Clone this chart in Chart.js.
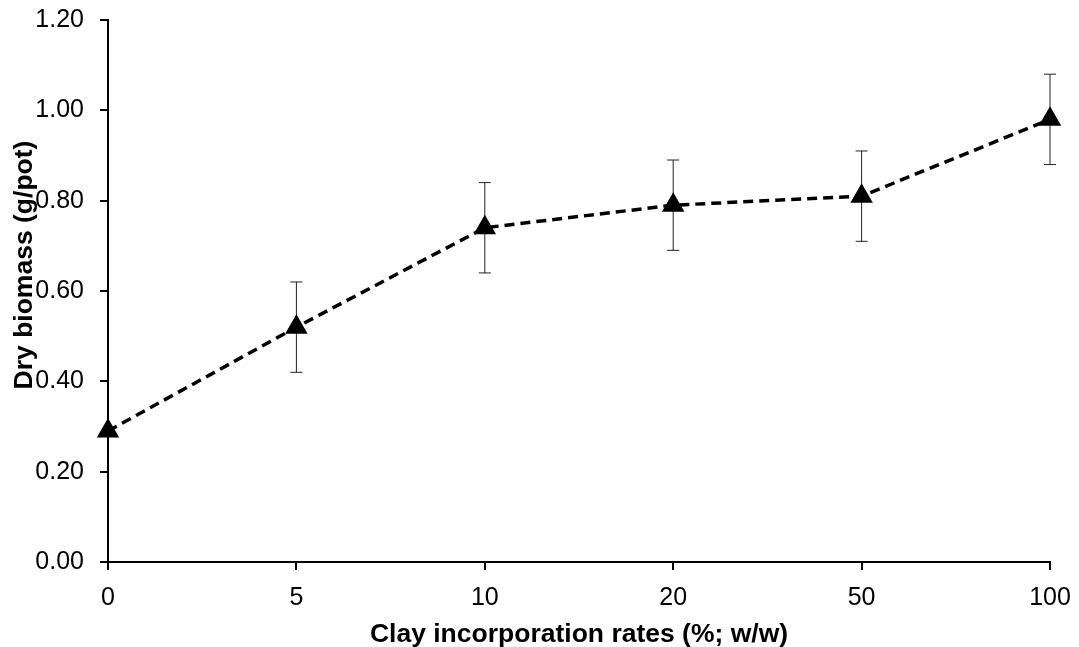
<!DOCTYPE html>
<html lang="en">
<head>
    <meta charset="UTF-8">
    <title>Dry biomass vs clay incorporation</title>
    <script src="https://cdn.jsdelivr.net/npm/chart.js"></script>
    <style>
        html, body { margin: 0; padding: 0; background: #fff; }
        .chart-box { width: 1079px; height: 647px; position: relative; }
    </style>
</head>
<body>
    <div class="chart-box">
        <canvas id="biomassChart"></canvas>
    </div>

    <script>
        // Data
        const rates = ['0', '5', '10', '20', '50', '100'];      // clay incorporation, % w/w
        const biomass = [0.29, 0.52, 0.74, 0.79, 0.81, 0.98];   // g/pot
        const errors = [0.00, 0.10, 0.10, 0.10, 0.10, 0.10];    // error bar half-length
        const yTicks = [0, 0.2, 0.4, 0.6, 0.8, 1.0, 1.2];
        const yTitle = 'Dry biomass (g/pot)';
        const xTitle = 'Clay incorporation rates (%; w/w)';

        const FONT = "'Liberation Sans', Arial, sans-serif";

        // draws the vertical error bars with caps, under the line
        const errorBars = {
            id: 'errorBars',
            beforeDatasetsDraw(chart) {
                const ctx = chart.ctx;
                const x = chart.scales.x, y = chart.scales.y;
                ctx.save();
                ctx.strokeStyle = '#222';
                ctx.lineWidth = 1;
                biomass.forEach((v, i) => {
                    if (!errors[i]) return;
                    const px = x.getPixelForValue(i);
                    const top = y.getPixelForValue(v + errors[i]);
                    const bot = y.getPixelForValue(v - errors[i]);
                    ctx.beginPath();
                    ctx.moveTo(px, top); ctx.lineTo(px, bot);
                    ctx.moveTo(px - 6, top); ctx.lineTo(px + 6, top);
                    ctx.moveTo(px - 6, bot); ctx.lineTo(px + 6, bot);
                    ctx.stroke();
                });
                ctx.restore();
            }
        };

        // y title sits over the tick labels like in the original (Excel style)
        const yTitlePlugin = {
            id: 'yTitle',
            afterDraw(chart) {
                const ctx = chart.ctx;
                ctx.save();
                ctx.translate(25, 265);
                ctx.rotate(-Math.PI / 2);
                ctx.font = "bold 26.5px " + FONT;
                ctx.fillStyle = '#000';
                ctx.textAlign = 'center';
                ctx.textBaseline = 'middle';
                ctx.fillText(yTitle, 0, 0);
                ctx.restore();
            }
        };

        const config = {
            type: 'line',
            data: {
                labels: rates,
                datasets: [{
                    data: biomass,
                    borderColor: '#000',
                    backgroundColor: '#000',
                    borderWidth: 3.5,
                    borderDash: [10, 6],
                    pointStyle: 'triangle',
                    pointRadius: 13,
                    pointBorderWidth: 0,
                    pointBackgroundColor: '#000',
                    tension: 0
                }]
            },
            options: {
                responsive: true,
                maintainAspectRatio: false,
                animation: false,
                layout: { padding: { top: 20, right: 29, bottom: 0, left: 0 } },
                plugins: {
                    legend: { display: false },
                    tooltip: { enabled: false }
                },
                scales: {
                    x: {
                        type: 'category',
                        offset: false,
                        afterFit: (axis) => { axis.height = 85; axis.paddingRight = 0; },
                        border: { color: '#000', width: 2 },
                        grid: { drawOnChartArea: false, drawTicks: true, tickLength: 8, color: '#000', lineWidth: 2 },
                        ticks: { color: '#000', font: { family: FONT, size: 25 }, padding: 13, maxRotation: 0 },
                        title: {
                            display: true,
                            text: xTitle,
                            color: '#000',
                            font: { family: FONT, size: 26.5, weight: 'bold' },
                            padding: { top: 2, bottom: -4 }
                        }
                    },
                    y: {
                        min: 0,
                        max: 1.2,
                        afterBuildTicks: (axis) => { axis.ticks = yTicks.map(v => ({ value: v })); },
                        afterFit: (axis) => { axis.width = 108; },
                        border: { color: '#000', width: 2 },
                        grid: { drawOnChartArea: false, drawTicks: true, tickLength: 8, color: '#000', lineWidth: 2 },
                        ticks: {
                            color: '#000',
                            font: { family: FONT, size: 25, lineHeight: 0.3 },
                            padding: 16,
                            callback: (v) => Number(v).toFixed(2)
                        },
                        title: { display: false }
                    }
                }
            },
            plugins: [errorBars, yTitlePlugin]
        };

        const biomassChart = new Chart(document.getElementById('biomassChart'), config);
    </script>
</body>
</html>
